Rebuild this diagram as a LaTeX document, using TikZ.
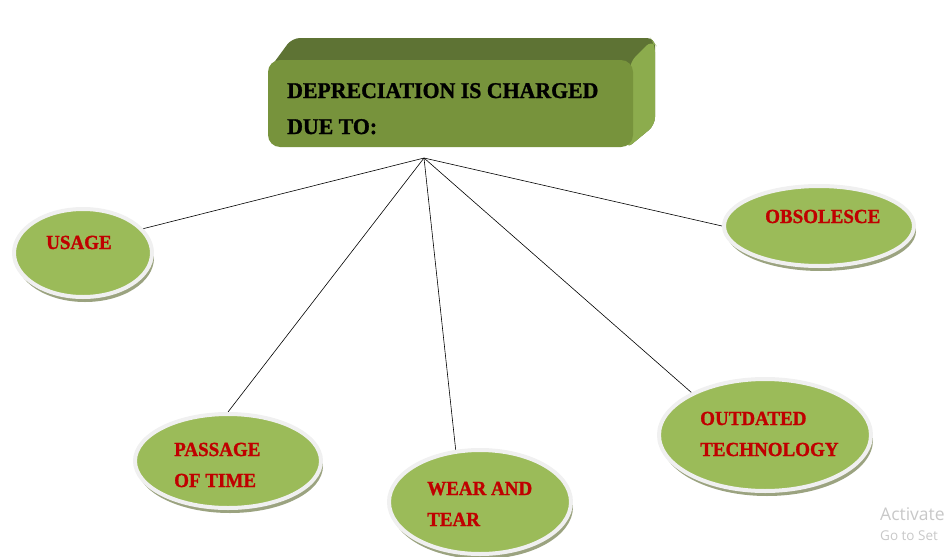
\documentclass[tikz,border=0pt]{standalone}
\usepackage{fontspec}
\setmainfont{Liberation Serif}
\newfontfamily\capfont[FakeStretch=0.95,FakeBold=1.2]{Liberation Serif}
\newfontfamily\headfont[FakeStretch=0.97,FakeBold=1.2]{Liberation Serif}
\newfontfamily\winfont{Open Sans}
\usetikzlibrary{shadows}
\usetikzlibrary{shapes}
\usetikzlibrary{calc}
\usetikzlibrary{backgrounds}

\definecolor{topface}{RGB}{94,115,52}
\definecolor{frontface}{RGB}{119,147,60}
\definecolor{sideface}{RGB}{140,172,77}
\definecolor{bubblefill}{RGB}{155,187,89}
\definecolor{ringcol}{RGB}{240,240,240}
\definecolor{shadowcol}{RGB}{155,163,128}
\definecolor{txtred}{RGB}{192,0,0}
\definecolor{markgray}{RGB}{200,200,200}

\begin{document}
\begin{tikzpicture}[x=1pt,y=-1pt,
            slab/.style={fill=frontface, rounded corners=12pt, minimum width=365pt,
            minimum height=87pt, inner sep=0pt},
            bubble/.style={ellipse, fill=bubblefill, draw=ringcol, line width=4pt, inner sep=0pt,
            drop shadow={shadow xshift=2pt, shadow yshift=-5pt, fill=shadowcol, opacity=1}},
            word/.style={text=txtred, anchor=base west, align=left, inner sep=0pt,
            font=\capfont\bfseries\fontsize{20}{31}\selectfont},
            winmark/.style={text=markgray, anchor=base west, inner sep=0pt},
            spoke/.style={draw=black, line width=0.6pt}]
        \useasboundingbox (0,0) rectangle (948,557);
        \clip (0,0) rectangle (948,557);

        \node[slab] (title) at (450.5,103.5) {};
        % base of a two-line node is the last line
        \node[anchor=base west, align=left, inner sep=0pt,
            font=\headfont\bfseries\fontsize{22.5}{36}\selectfont] (title-txt) at (287,134)
            {DEPRECIATION IS CHARGED\\DUE TO:};

        \node[bubble, minimum width=138pt, minimum height=88pt] (usage) at (83,253) {};
        \node[bubble, minimum width=190pt, minimum height=80pt] (obsolesce) at (819,226) {};
        \node[bubble, minimum width=212pt, minimum height=112pt] (outdated) at (765,435) {};
        \node[bubble, minimum width=186pt, minimum height=94pt] (passage) at (228,461) {};
        \node[bubble, minimum width=182pt, minimum height=104pt] (wear) at (480,502) {};

        \node[word] (usage-txt) at (46,249) {USAGE};
        \node[word] (obsolesce-txt) at (765,223) {OBSOLESCE};
        \node[word] (outdated-txt) at (700,456) {OUTDATED\\TECHNOLOGY};
        \node[word] (passage-txt) at (174,487) {PASSAGE\\OF TIME};
        \node[word] (wear-txt) at (427,526) {WEAR AND\\TEAR};

        \coordinate (hub) at (424,158);

        \node[winmark, font=\winfont\fontsize{17.5}{17.5}\selectfont] (mark-a) at (880,520) {Activate};
        \node[winmark, font=\winfont\fontsize{13.5}{13.5}\selectfont] (mark-b) at (880,540) {Go to Set};

        \begin{scope}[on background layer]
            % slab depth
            \fill[topface, rounded corners=8pt] (270,68) -- (292,38) -- (655,38) -- (655,125)
                -- (626,149) -- (626,68) -- cycle;
            \fill[sideface, rounded corners=8pt] (630,62) -- (652,40) -- (655,44) -- (655,125)
                -- (626,149) -- cycle;
            \draw[spoke] (hub) -- (usage.22);
            \draw[spoke] (hub) -- (obsolesce.west);
            \draw[spoke] (hub) -- (outdated.150);
            \draw[spoke] (hub) -- (passage.north);
            \draw[spoke] (hub) -- (wear.115);
        \end{scope}
    \end{tikzpicture}
\end{document}
